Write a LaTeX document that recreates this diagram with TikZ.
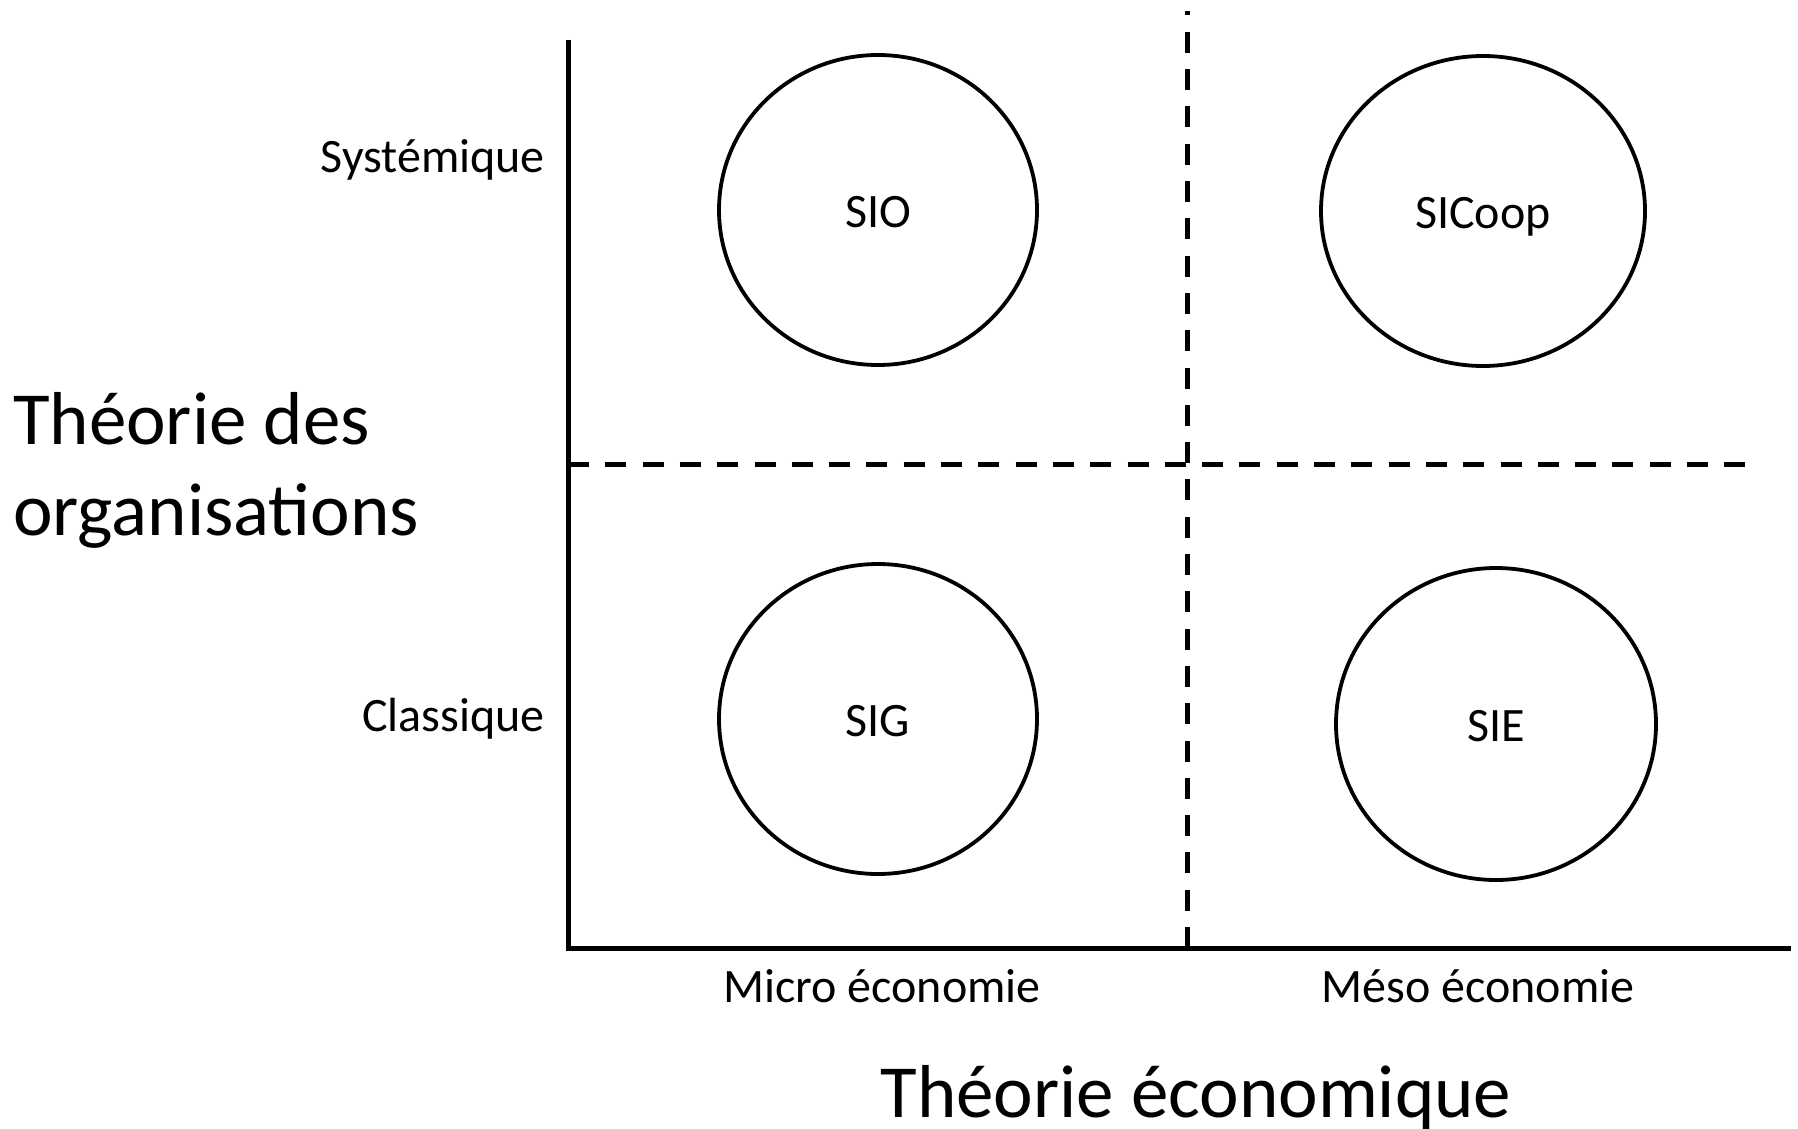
\documentclass[tikz,border=0pt]{standalone}
\usepackage{fontspec}
\setmainfont{Carlito}
\usetikzlibrary{shapes.geometric}
\begin{document}
\begin{tikzpicture}[x=1pt,y=-1pt,
  axisline/.style={line width=5pt},
  divider/.style={line width=5pt, dash pattern=on 21pt off 16.3pt},
  quadrant/.style={draw, ellipse, line width=3.8pt, inner sep=0pt,
    text height=34pt, text depth=0pt,
    font=\fontsize{48}{56}\selectfont},
  ticklabel/.style={font=\fontsize{48}{56}\selectfont, inner sep=0pt},
  axistitle/.style={font=\fontsize{75}{91}\selectfont, inner sep=0pt}]
\useasboundingbox (0,0) rectangle (1798,1129);

% axes
\coordinate (top) at (568,40);
\coordinate (origin) at (568,948);
\coordinate (right) at (1791,948);
\draw[axisline] (top) -- (origin) -- (right);

% quadrant dividers
\coordinate (vbot) at (1187,948);
\coordinate (vtop) at (1187,11);
\coordinate (hleft) at (568,464);
\coordinate (hright) at (1749,464);
\draw[divider] (vbot) -- (vtop);
\draw[divider] (hleft) -- (hright);

% the four information systems
\node[quadrant, minimum width=318pt, minimum height=310pt] (sio) at (878,210) {SIO};
\node[quadrant, minimum width=324pt, minimum height=310pt] (sicoop) at (1483,211) {SICoop};
\node[quadrant, minimum width=318pt, minimum height=310pt] (sig) at (878,719) {SIG};
\node[quadrant, minimum width=320pt, minimum height=312pt] (sie) at (1496,724) {SIE};

% vertical axis labels
\node[ticklabel, anchor=base east] (sys) at (545,172) {Systémique};
\node[ticklabel, anchor=base east] (cla) at (545,731) {Classique};
\node[axistitle, anchor=base west, align=left] (torg) at (13,535)
  {Théorie des\\organisations};

% horizontal axis labels
\node[ticklabel, anchor=base] (micro) at (882,1002) {Micro économie};
\node[ticklabel, anchor=base] (meso) at (1478,1002) {Méso économie};
\node[axistitle, anchor=base] (teco) at (1196,1117) {Théorie économique};
\end{tikzpicture}
\end{document}
